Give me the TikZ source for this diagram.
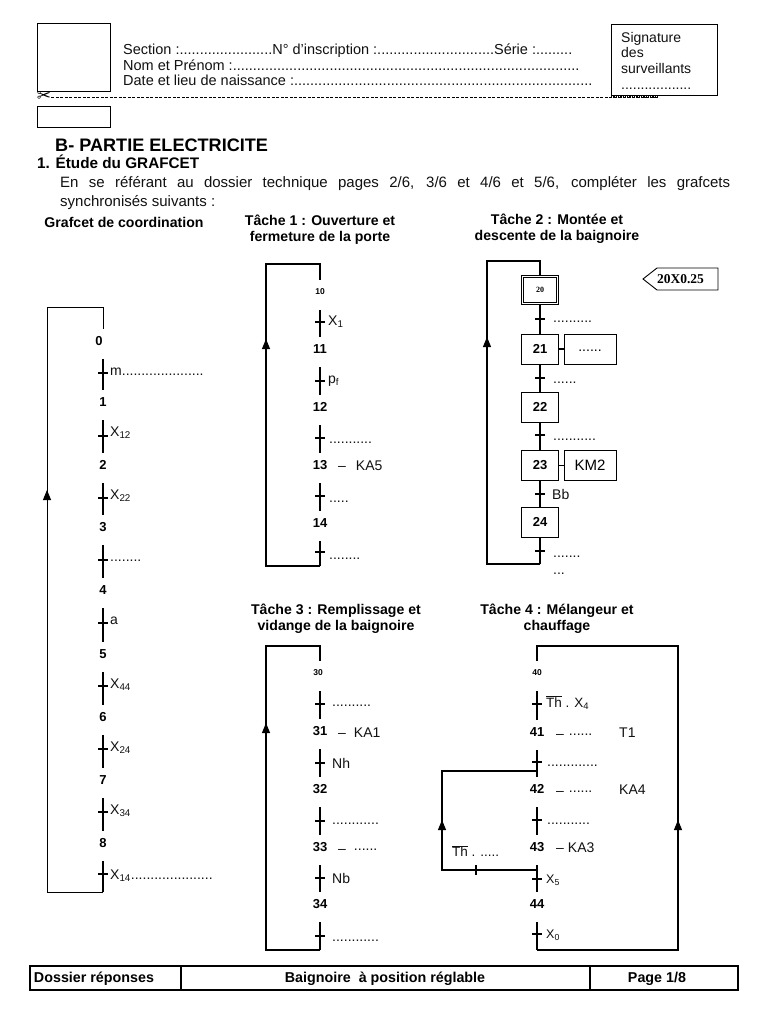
\documentclass[tikz,border=0pt]{standalone}
\usepackage{fontspec}
\usepackage{xcolor}
\usetikzlibrary{arrows.meta}
\setmainfont{Liberation Sans}
\newfontfamily\serifb{Liberation Serif}
\newfontfamily\symb{DejaVu Sans}
\definecolor{ink}{HTML}{111111}
\newcommand{\sbs}[1]{\textsubscript{#1}}
\newcommand{\thbar}{$\overline{\mbox{Th}}$}
\tikzset{
  stepnum/.style={font=\fontsize{13}{14}\selectfont\bfseries, text=black, inner sep=0pt, minimum height=24pt},
  stepsmall/.style={stepnum, font=\fontsize{8.5}{10}\selectfont\bfseries},
  stub/.style={line width=1.1pt, shorten <=6pt},
  tick/.style={fill=black, inner sep=0pt, minimum width=10pt, minimum height=1.1pt},
  cond/.style={font=\fontsize{14}{16}\selectfont, text=ink, inner sep=0pt, anchor=west},
  dotcond/.style={cond, anchor=base west, yshift=-1pt},
  actcond/.style={cond, anchor=base west},
  title/.style={font=\fontsize{14.1}{16.3}\selectfont\bfseries, text=black, align=center, inner sep=0pt},
  head/.style={font=\fontsize{14.5}{15.5}\selectfont, text=ink, inner sep=0pt, anchor=base west},
  stepbox/.style={draw, line width=0.9pt, minimum width=37pt, minimum height=30pt, inner sep=0pt,
    font=\fontsize{13}{15}\selectfont\bfseries},
  actbox/.style={draw, line width=0.9pt, minimum width=52pt, minimum height=30pt, inner sep=0pt,
    font=\fontsize{15}{17}\selectfont},
  loopline/.style={line width=1.1pt},
  uparrow/.style={line width=1.1pt, -{Triangle[length=10pt,width=8pt]}},
  foot/.style={font=\fontsize{14.3}{15}\selectfont\bfseries, text=black, inner sep=0pt}
}
\begin{document}
\begin{tikzpicture}[x=1pt, y=-1pt]
  \useasboundingbox[fill=white] (0,0) rectangle (768,1024);

  % en-tete
  \draw[line width=1pt] (37,24) rectangle (110,92);
  \draw[line width=1pt] (37,107) rectangle (110,128);
  \draw[line width=1pt] (611,25) rectangle (717,96);
  \node[head] (sec) at (123,55) {Section :.......................N° d’inscription :.............................Série :.........};
  \node[head] (nom) at (123,71) {Nom et Prénom :......................................................................................};
  \node[head] (dat) at (123,86) {Date et lieu de naissance :..........................................................................};
  \node[head, anchor=north west, align=left, font=\fontsize{14}{15.6}\selectfont] (sig) at (621,32)
    {Signature\\des\\surveillants\\..................};
  \node[font=\fontsize{17}{17}\symb, text=black, inner sep=0pt] (cut) at (44,97) {✂};
  \coordinate (cutend) at (658,97);
  \coordinate (cutmid) at (611,97);
  \draw[dash pattern=on 3pt off 1.5pt, line width=0.8pt] (cut) -- (cutend);
  \draw[densely dotted, line width=1.3pt] (cutmid) -- (cutend);

  \node[head, anchor=west, font=\fontsize{18.1}{18}\selectfont\bfseries, text=black] (partb) at (55,145) {B- PARTIE ELECTRICITE};
  \node[head, anchor=west, font=\fontsize{15.3}{16}\selectfont\bfseries, text=black] (etude) at (37,162) {1. Étude du GRAFCET};
  \node[head, font=\fontsize{15}{19}\selectfont, text width=670pt, align=justify, anchor=north west] (para) at (60,176.5)
    {En se référant au dossier technique pages 2/6, 3/6 et 4/6 et 5/6, compléter les grafcets\linebreak synchronisés suivants :};

  % titres
  \node[title] (tit0) at (124,222) {Grafcet de coordination};
  \node[title] (tit1) at (320,229.5) {Tâche 1 : Ouverture et\\fermeture de la porte};
  \node[title] (tit2) at (557,229) {Tâche 2 : Montée et\\descente de la baignoire};
  \node[title] (tit3) at (336,618.5) {Tâche 3 : Remplissage et\\vidange de la baignoire};
  \node[title] (tit4) at (557,618.5) {Tâche 4 : Mélangeur et\\chauffage};

  % grafcet de coordination
  \node[stepnum] (s0) at (103,341) {\makebox[0pt]{\hspace{-8pt}0}};
  \node[stepnum] (s1) at (103,402) {1};
  \node[stepnum] (s2) at (103,465) {2};
  \node[stepnum] (s3) at (103,527) {3};
  \node[stepnum] (s4) at (103,590) {4};
  \node[stepnum] (s5) at (103,654) {5};
  \node[stepnum] (s6) at (103,717) {6};
  \node[stepnum] (s7) at (103,780) {7};
  \node[stepnum] (s8) at (103,843) {8};
  \coordinate (s8end) at (103,892);
  \coordinate (l0a) at (47,892);
  \coordinate (l0b) at (47,307);
  \coordinate (l0c) at (103,307);
  \coordinate (a0) at (47,490);
  \draw[stub] (s0) -- (s1);
  \draw[stub] (s1) -- (s2);
  \draw[stub] (s2) -- (s3);
  \draw[stub] (s3) -- (s4);
  \draw[stub] (s4) -- (s5);
  \draw[stub] (s5) -- (s6);
  \draw[stub] (s6) -- (s7);
  \draw[stub] (s7) -- (s8);
  \draw[stub] (s8) -- (s8end);
  \draw[line width=0.9pt] (s8end) -- (l0a) -- (l0b) -- (l0c) -- (s0);
  \draw[uparrow, line width=0.9pt] (l0a) -- (a0);
  \node[tick] (t0) at (103,373) {};
  \node[tick] (t1) at (103,436) {};
  \node[tick] (t2) at (103,498) {};
  \node[tick] (t3) at (103,560) {};
  \node[tick] (t4) at (103,623) {};
  \node[tick] (t5) at (103,686) {};
  \node[tick] (t6) at (103,749) {};
  \node[tick] (t7) at (103,812) {};
  \node[tick] (t8) at (103,874) {};
  \node[dotcond] (c0) at (110,374) {m.....................};
  \node[cond] (c1) at (110,433) {X\sbs{12}};
  \node[cond] (c2) at (110,496) {X\sbs{22}};
  \node[dotcond] (c3) at (110,560) {........};
  \node[cond] (c4) at (110,621) {a};
  \node[cond] (c5) at (110,685) {X\sbs{44}};
  \node[cond] (c6) at (110,748) {X\sbs{24}};
  \node[cond] (c7) at (110,811) {X\sbs{34}};
  \node[dotcond] (c8) at (110,878) {X\sbs{14}.....................};

  % tache 1
  \node[stepsmall] (s10) at (320,292) {10};
  \node[stepnum] (s11) at (320,349) {11};
  \node[stepnum] (s12) at (320,407) {12};
  \node[stepnum] (s13) at (320,465) {13};
  \node[stepnum] (s14) at (320,523) {14};
  \coordinate (s14end) at (320,566);
  \coordinate (l1a) at (266,566);
  \coordinate (l1b) at (266,264);
  \coordinate (l1c) at (320,264);
  \coordinate (a1) at (266,339);
  \draw[stub] (s10) -- (s11);
  \draw[stub] (s11) -- (s12);
  \draw[stub] (s12) -- (s13);
  \draw[stub] (s13) -- (s14);
  \draw[stub] (s14) -- (s14end);
  \draw[loopline] (s14end) -- (l1a) -- (l1b) -- (l1c) -- (s10);
  \draw[uparrow] (l1a) -- (a1);
  \node[tick] (t10) at (320,322) {};
  \node[tick] (t11) at (320,381) {};
  \node[tick] (t12) at (320,438) {};
  \node[tick] (t13) at (320,496) {};
  \node[tick] (t14) at (320,552) {};
  \node[cond] (c10) at (328,322) {X\sbs{1}};
  \node[cond] (c11) at (328,381) {p\sbs{f}};
  \node[dotcond] (c12) at (329,442) {...........};
  \node[dotcond] (c13) at (329,501) {.....};
  \node[dotcond] (c14) at (329,558) {........};
  \node[actcond] (a13) at (338,470) {–\hspace{10pt}KA5};

  % tache 2
  \node[stepbox, double, double distance=1.2pt, minimum width=35pt, minimum height=27pt,
    font=\fontsize{8}{10}\serifb\bfseries] (s20) at (540,290) {20};
  \node[stepbox] (s21) at (540,349) {21};
  \node[stepbox] (s22) at (540,407) {22};
  \node[stepbox] (s23) at (540,465) {23};
  \node[stepbox] (s24) at (540,522) {24};
  \node[actbox] (a21) at (590,349) {\fontsize{14}{16}\selectfont\raisebox{-4pt}{......}};
  \node[actbox] (a23) at (590,465) {KM2};
  \coordinate (s24end) at (540,564);
  \coordinate (l2a) at (487,564);
  \coordinate (l2b) at (487,261);
  \coordinate (l2c) at (540,261);
  \coordinate (a2) at (487,337);
  \draw[loopline] (s20) -- (s21);
  \draw[loopline] (s21) -- (s22);
  \draw[loopline] (s22) -- (s23);
  \draw[loopline] (s23) -- (s24);
  \draw[loopline] (s24) -- (s24end);
  \draw[loopline] (s24end) -- (l2a) -- (l2b) -- (l2c) -- (s20);
  \draw[uparrow] (l2a) -- (a2);
  \draw[line width=1.2pt] (s21) -- (a21);
  \draw[line width=0.8pt] (s23) -- (a23);
  \node[tick] (t20) at (540,319) {};
  \node[tick] (t21) at (540,378) {};
  \node[tick] (t22) at (540,435) {};
  \node[tick] (t23) at (540,494) {};
  \node[tick] (t24) at (540,551) {};
  \node[dotcond] (c20) at (553,321) {..........};
  \node[dotcond] (c21) at (553,382) {......};
  \node[dotcond] (c22) at (553,439) {...........};
  \node[cond] (c23) at (552,494) {Bb};
  \node[dotcond] (c24) at (553,556) {.......};
  \node[dotcond] (c24b) at (553,573) {...};
  \draw[line width=0.9pt] (643,279) -- (657,268) -- (718,268) -- (718,290) -- (657,290) -- cycle;
  \node[font=\fontsize{13.5}{15}\serifb\bfseries, text=black, inner sep=0pt] (tag) at (680.5,279) {20X0.25};

  % tache 3
  \node[stepsmall] (s30) at (320,673) {\makebox[0pt]{\hspace{-4pt}30}};
  \node[stepnum] (s31) at (320,731) {31};
  \node[stepnum] (s32) at (320,789) {32};
  \node[stepnum] (s33) at (320,847) {33};
  \node[stepnum] (s34) at (320,904) {34};
  \coordinate (s34end) at (320,950);
  \coordinate (l3a) at (266,950);
  \coordinate (l3b) at (266,646);
  \coordinate (l3c) at (320,646);
  \coordinate (a3) at (266,723);
  \draw[stub] (s30) -- (s31);
  \draw[stub] (s31) -- (s32);
  \draw[stub] (s32) -- (s33);
  \draw[stub] (s33) -- (s34);
  \draw[stub] (s34) -- (s34end);
  \draw[loopline] (s34end) -- (l3a) -- (l3b) -- (l3c) -- (s30);
  \draw[uparrow] (l3a) -- (a3);
  \node[tick] (t30) at (320,704) {};
  \node[tick] (t31) at (320,763) {};
  \node[tick] (t32) at (320,821) {};
  \node[tick] (t33) at (320,878) {};
  \node[tick] (t34) at (320,936) {};
  \node[dotcond] (c30) at (332,705) {..........};
  \node[cond] (c31) at (332,763) {Nh};
  \node[dotcond] (c32) at (332,823) {............};
  \node[cond] (c33) at (332,878) {Nb};
  \node[dotcond] (c34) at (332,940) {............};
  \node[actcond] (a31) at (338,737) {–\hspace{8pt}KA1};
  \node[actcond] (a33) at (338,853) {–\hspace{8pt}\raisebox{2.5pt}{......}};

  % tache 4
  \node[stepsmall] (s40) at (537,673) {40};
  \node[stepnum] (s41) at (537,732) {41};
  \node[stepnum] (s42) at (537,789) {42};
  \node[stepnum] (s43) at (537,847) {43};
  \node[stepnum] (s44) at (537,904) {44};
  \coordinate (s44end) at (537,950);
  \coordinate (l4a) at (678,950);
  \coordinate (l4b) at (678,646);
  \coordinate (l4c) at (537,646);
  \coordinate (a4) at (678,820);
  \coordinate (b41) at (537,771);
  \coordinate (b43) at (537,870);
  \coordinate (l5a) at (442,870);
  \coordinate (l5b) at (442,771);
  \coordinate (a5) at (442,820);
  \draw[stub] (s40) -- (s41);
  \draw[stub] (s41) -- (s42);
  \draw[stub] (s42) -- (s43);
  \draw[stub] (s43) -- (s44);
  \draw[stub] (s44) -- (s44end);
  \draw[loopline] (s44end) -- (l4a) -- (l4b) -- (l4c) -- (s40);
  \draw[uparrow] (l4a) -- (a4);
  \draw[loopline] (b43) -- (l5a) -- (l5b) -- (b41);
  \draw[uparrow] (l5a) -- (a5);
  \node[tick] (t40) at (537,704) {};
  \node[tick] (t41) at (537,762) {};
  \node[tick] (t42) at (537,820) {};
  \node[tick] (t43) at (537,879) {};
  \node[tick] (t44) at (537,934) {};
  \node[tick, minimum width=1.1pt, minimum height=10pt] (t45) at (476,870) {};
  \node[cond, font=\fontsize{13.5}{14}\selectfont] (c40) at (546,703) {\thbar{} . X\sbs{4}};
  \node[dotcond] (c41) at (547,765) {.............};
  \node[dotcond] (c42) at (547,823) {...........};
  \node[cond, font=\fontsize{12.5}{14}\selectfont] (c43) at (546,880) {X\sbs{5}};
  \node[cond, font=\fontsize{12.5}{14}\selectfont] (c44) at (546,935) {X\sbs{0}};
  \node[cond, font=\fontsize{13.5}{14}\selectfont] (c45) at (452,851) {\thbar{} . .....};
  \node[actcond] (a41) at (556,738) {–\hspace{5pt}\raisebox{2.5pt}{......}};
  \node[actcond] (a42) at (556,795) {–\hspace{5pt}\raisebox{2.5pt}{......}};
  \node[actcond] (a43) at (556,852) {–\hspace{4pt}KA3};
  \node[cond] (act41) at (619,733) {T1};
  \node[cond] (act42) at (619,790) {KA4};

  % cartouche
  \draw[line width=1.6pt] (30,966) rectangle (738,990);
  \draw[line width=1.6pt] (181,966) -- (181,990);
  \draw[line width=1.6pt] (590,966) -- (590,990);
  \node[foot] (f1) at (94,979) {Dossier réponses};
  \node[foot] (f2) at (385,979) {Baignoire\ \ à position réglable};
  \node[foot] (f3) at (657,979) {Page 1/8};
\end{tikzpicture}
\end{document}
